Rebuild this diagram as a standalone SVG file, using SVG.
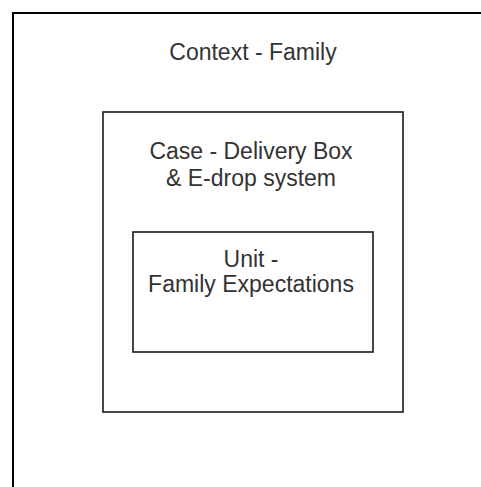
<svg xmlns="http://www.w3.org/2000/svg" width="481" height="487" viewBox="0 0 481 487">
  <style>
    .box { fill: none; stroke: #1a1a1a; stroke-width: 1.6; }
    .frame { fill: none; stroke: #000; stroke-width: 2; }
    .label { font-family: "Liberation Sans", Arial, sans-serif; font-size: 23px; fill: #333; text-anchor: middle; }
  </style>
  <rect width="481" height="487" fill="#fff"/>
  <g id="context">
    <path class="frame" d="M13,487 V13 H481"/>
    <text class="label" x="253" y="60">Context - Family</text>
  </g>
  <g id="case">
    <rect class="box" x="103" y="112" width="300" height="300"/>
    <text class="label" x="251" y="159">Case - Delivery Box</text>
    <text class="label" x="251" y="186">&amp; E-drop system</text>
  </g>
  <g id="unit">
    <rect class="box" x="133" y="232" width="240" height="120"/>
    <text class="label" x="251" y="267">Unit -</text>
    <text class="label" x="251" y="292">Family Expectations</text>
  </g>
  <g id="connectors"/>
</svg>
